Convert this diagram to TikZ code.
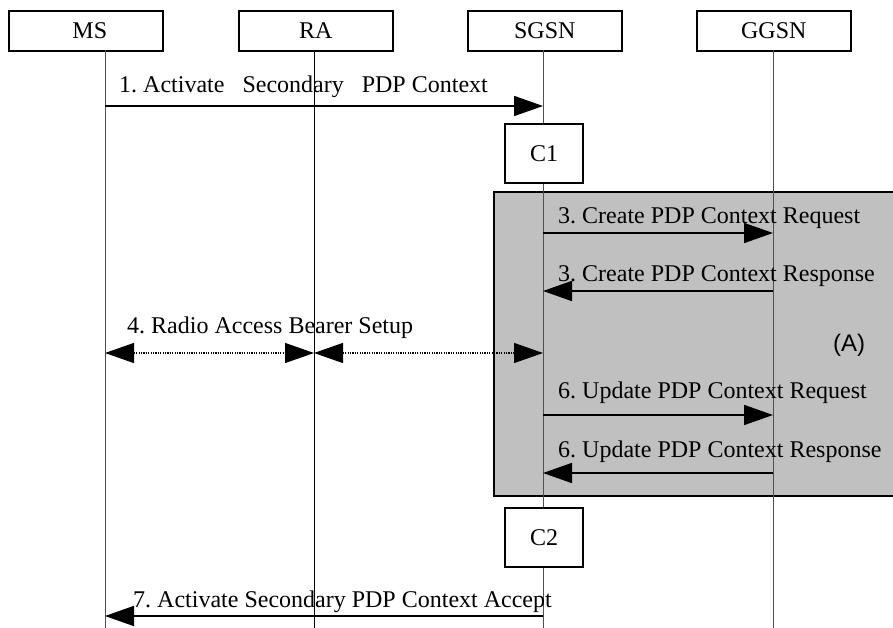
\documentclass[tikz,border=0pt]{standalone}
\usepackage{fontspec}
\setmainfont{Liberation Serif}
\newfontfamily\sansA{Liberation Sans}
\usetikzlibrary{arrows.meta}
\definecolor{regiongray}{HTML}{C0C0C0}
\definecolor{lifegray}{HTML}{505050}
\frenchspacing
\begin{document}
\begin{tikzpicture}[x=1pt,y=-1pt,
  hdr/.style={draw,line width=1.6pt,minimum width=154pt,minimum height=40pt,inner sep=0pt,anchor=north west,font=\fontsize{24}{26}\selectfont},
  cbox/.style={draw,line width=1.6pt,fill=white,minimum width=78pt,minimum height=59pt,inner sep=0pt,font=\fontsize{24}{26}\selectfont},
  life/.style={draw=lifegray,line width=1pt},
  msg/.style={line width=1.8pt,-{Triangle[length=29pt,width=20pt]}},
  dmsg/.style={line width=1.2pt,dash pattern=on 1.2pt off 1.2pt,{Triangle[length=29pt,width=20pt]}-{Triangle[length=29pt,width=20pt]}},
  lbl/.style={anchor=base west,inner sep=0pt,font=\fontsize{24}{26}\selectfont},
]
\useasboundingbox (0,0) rectangle (893,628);
\fill[white] (0,0) rectangle (893,628);

% shaded region (A)
\node[draw,line width=1.6pt,fill=regiongray,anchor=north west,minimum width=412pt,minimum height=304pt,inner sep=0pt] (regionA) at (493,191) {};

% headers
\node[hdr] (MS) at (8,10) {\hspace*{8pt}MS};
\node[hdr] (RA) at (238,10) {RA};
\node[hdr] (SGSN) at (467,10) {SGSN};
\node[hdr] (GGSN) at (696,10) {GGSN};

% lifeline anchor points
\coordinate (MSt) at (105,50);   \coordinate (MSb) at (105,628);
\coordinate (RAt) at (314,50);   \coordinate (RAb) at (314,628);
\coordinate (SGt) at (543,50);   \coordinate (SGb) at (543,628);
\coordinate (GGt) at (773,50);   \coordinate (GGb) at (773,628);
\draw[life] (MSt) -- (MSb);
\draw[life,draw=black] (RAt) -- (RAb);
\draw[life] (SGt) -- (SGb);
\draw[life] (GGt) -- (GGb);

% message end points
\coordinate (m1a) at (105,106); \coordinate (m1b) at (543,106);
\coordinate (m3a) at (543,233); \coordinate (m3b) at (773,233);
\coordinate (m3c) at (773,291); \coordinate (m3d) at (543,291);
\coordinate (m4a) at (105,353); \coordinate (m4b) at (314,353); \coordinate (m4c) at (543,353);
\coordinate (m6a) at (543,415); \coordinate (m6b) at (773,415);
\coordinate (m6c) at (773,473); \coordinate (m6d) at (543,473);
\coordinate (m7a) at (543,616); \coordinate (m7b) at (105,616);

% boxes C1, C2
\node[cbox] (C1) at (544,153.5) {C1};
\node[cbox] (C2) at (544,537.5) {C2};

% messages
\draw[msg] (m1a) -- (m1b);
\node[lbl] (t1) at (119,93) {1. Activate\hspace{18pt}Secondary\hspace{18pt}PDP Context};

\draw[msg] (m3a) -- (m3b);
\node[lbl] (t3a) at (558,223) {3. Create PDP Context Request};
\draw[msg] (m3c) -- (m3d);
\node[lbl] (t3b) at (558,281) {3. Create PDP Context Response};

\draw[dmsg] (m4a) -- (m4b);
\draw[dmsg] (m4b) -- (m4c);
\node[lbl] (t4) at (127,333) {4. Radio Access Bearer Setup};

\node[lbl,font=\sansA\fontsize{24}{26}\selectfont] (tA) at (833,351) {(A)};

\draw[msg] (m6a) -- (m6b);
\node[lbl] (t6a) at (558,398) {6. Update PDP Context Request};
\draw[msg] (m6c) -- (m6d);
\node[lbl] (t6b) at (558,457) {6. Update PDP Context Response};

\draw[msg] (m7a) -- (m7b);
\node[lbl] (t7) at (133,607) {7. Activate Secondary PDP Context Accept};
\end{tikzpicture}
\end{document}
